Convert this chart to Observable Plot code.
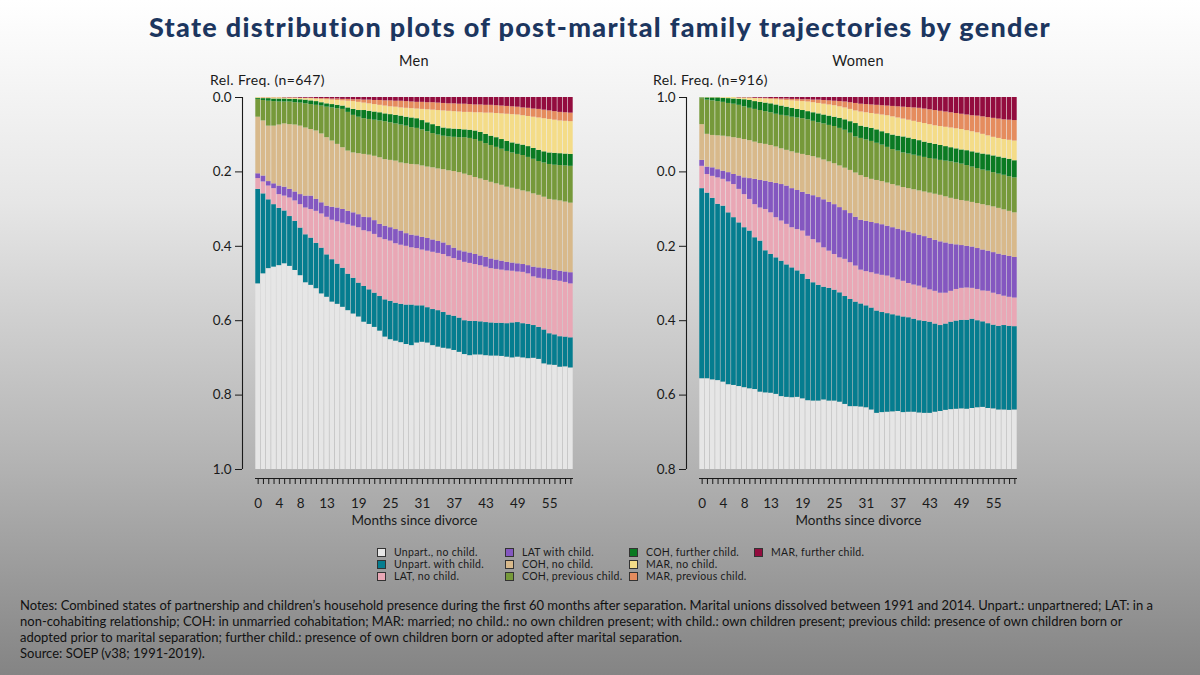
<!DOCTYPE html>
<html>
<head>
<meta charset="utf-8">
<script src="https://cdn.jsdelivr.net/npm/d3@7"></script>
<script src="https://cdn.jsdelivr.net/npm/@observablehq/plot@0.6"></script>
<style>
  html, body { margin: 0; padding: 0; }
  body {
    width: 1200px; height: 675px; position: relative; overflow: hidden;
    background: linear-gradient(to bottom, #ffffff 0%, #e6e6e6 30%, #b4b4b4 68%, #848484 100%);
    font-family: Lato, "Noto Sans", sans-serif; color: #1a1a1a;
  }
  .abs { position: absolute; }
  #title { left: 0; width: 1200px; top: 10px; text-align: center; font-size: 27px; line-height: 34px; font-weight: 900; letter-spacing: 1.3px; color: #1c365f; }
  .ptitle { top: 52px; width: 420px; text-align: center; font-size: 14.5px; line-height: 18px; letter-spacing: 0.3px; }
  .ylab { top: 72px; font-size: 14px; line-height: 16px; letter-spacing: 0.4px; }
  .panel { top: 85px; }
  #legend { left: 0; top: 0; width: 1200px; height: 675px; pointer-events: none; }
  .lg-item { position: absolute; font-size: 10.5px; line-height: 12px; white-space: nowrap; color: #1a1a1a; letter-spacing: 0.3px; }
  .lg-sw { display: inline-block; width: 7px; height: 7px; border: 1px solid #333; vertical-align: -1px; margin-right: 8px; }
  #notes { left: 20px; top: 597px; font-size: 13px; line-height: 16px; white-space: nowrap; color: #111; }
</style>
</head>
<body>
<div id="title" class="abs">State distribution plots of post-marital family trajectories by gender</div>
<div class="abs ptitle" style="left:204px">Men</div>
<div class="abs ptitle" style="left:648px">Women</div>
<div class="abs ylab" style="left:210px">Rel. Freq. (n=647)</div>
<div class="abs ylab" style="left:653px">Rel. Freq. (n=916)</div>
<div id="men" class="abs panel" style="left:170px"></div>
<div id="women" class="abs panel" style="left:614px"></div>
<div id="legend" class="abs"></div>
<div id="notes" class="abs">
Notes: Combined states of partnership and children’s household presence during the first 60 months after separation. Marital unions dissolved between 1991 and 2014. Unpart.: unpartnered; LAT: in a<br>
non-cohabiting relationship; COH: in unmarried cohabitation; MAR: married; no child.: no own children present; with child.: own children present; previous child: presence of own children born or<br>
adopted prior to marital separation; further child.: presence of own children born or adopted after marital separation.<br>
Source: SOEP (v38; 1991-2019).
</div>
<script>
// ---------- categories ----------
const months = [0,1,2,3,4,5,6,7,8,9,10,11,12,13,14,15,16,17,18,19,20,21,22,23,24,25,26,27,28,29,
  30,31,32,33,34,35,36,37,38,39,40,41,42,43,44,45,46,47,48,49,50,51,52,53,54,55,56,57,58,59];
const xTickMonths = [0, 4, 8, 13, 19, 25, 31, 37, 43, 49, 55];
const yTickValues = [0, 0.2, 0.4, 0.6, 0.8, 1];
const menYTickLabels = ["1.0", "0.8", "0.6", "0.4", "0.2", "0.0"];
const womenYTickLabels = ["0.8", "0.6", "0.4", "0.2", "0.0", "1.0"];
const xAxisTitle = "Months since divorce";

const stateNames = ["Unpart., no child.", "Unpart. with child.", "LAT, no child.", "LAT with child.",
  "COH, no child.", "COH, previous child.", "COH, further child.", "MAR, no child.",
  "MAR, previous child.", "MAR, further child."];
const stateColors = ["#e6e6e6", "#057d8f", "#e9a7b5", "#8457c0", "#d8b98b", "#76993a",
  "#0a7a22", "#f4dc88", "#e58c5e", "#930c3e"];

// ---------- Men (% of sequences per month) ----------
const menUnpartNoChild = [49.9,52.6,54.0,54.4,54.8,55.3,54.6,53.5,52.1,50.2,49.5,48.6,47.2,46.3,45.0,44.4,43.6,42.7,41.8,41.0,
  39.6,39.0,38.2,37.2,35.6,34.9,34.5,34.1,33.6,33.3,34.0,34.2,34.0,33.3,32.9,32.6,32.4,32.0,31.5,30.9,
  30.6,30.8,30.8,30.6,30.5,30.5,30.4,30.2,30.0,30.2,30.0,29.8,29.9,29.6,28.4,28.1,28.0,27.5,27.6,27.3];
const menUnpartWithChild = [25.4,21.5,18.5,16.8,15.4,14.2,13.4,13.2,12.8,12.9,12.7,12.2,12.3,11.4,11.4,10.8,10.5,9.8,9.6,9.1,
  9.6,9.3,9.2,9.3,10.0,10.3,10.2,10.3,10.6,10.9,10.0,9.8,9.5,9.7,9.8,9.6,9.1,9.2,9.2,9.1,
  9.2,9.0,8.9,8.9,8.9,8.8,8.9,9.0,9.4,9.3,9.2,9.2,8.8,8.6,9.1,8.4,8.2,8.2,8.0,8.1];
const menLatNoChild = [2.9,3.2,3.7,4.3,3.7,4.0,5.0,5.5,6.3,7.2,7.7,8.6,9.2,10.1,10.6,11.4,12.1,13.3,14.0,14.9,
  15.0,15.6,15.8,15.8,16.2,16.2,16.0,15.9,15.8,15.4,15.4,15.0,15.2,15.4,15.4,15.6,15.7,15.5,15.5,15.7,
  15.6,15.3,15.1,14.9,14.6,14.5,14.3,14.2,13.9,13.6,13.8,13.6,13.1,13.2,13.7,14.5,14.6,14.9,14.7,14.5];
const menLatWithChild = [1.3,1.6,1.2,1.3,2.3,2.4,2.3,2.4,2.7,3.2,3.6,3.2,3.0,3.0,3.5,3.7,3.7,3.6,3.6,3.5,
  3.6,3.8,3.7,3.6,3.6,3.6,3.8,3.8,3.4,3.4,3.4,3.4,3.4,3.3,3.2,3.1,3.0,2.8,2.6,2.8,
  2.8,2.7,2.6,2.6,2.6,2.5,2.4,2.3,2.2,2.2,2.1,2.2,2.6,2.8,2.8,2.8,2.7,2.7,2.8,3.0];
const menCohNoChild = [15.2,14.8,14.9,15.5,16.4,17.0,17.4,18.0,18.4,18.3,17.9,18.4,18.5,18.4,17.8,17.1,16.6,16.2,16.1,16.4,
  16.9,16.8,17.3,17.9,17.9,18.1,18.4,18.3,18.8,19.0,19.1,19.2,19.2,19.4,19.5,19.7,20.1,20.6,21.0,20.9,
  20.8,20.7,20.7,20.7,20.6,20.5,20.4,20.2,20.1,20.0,19.8,19.8,19.7,19.5,19.2,18.8,18.9,18.9,18.8,18.7];
const menCohPrevChild = [4.8,5.5,6.7,6.6,6.2,5.9,6.1,6.0,6.2,6.5,6.7,6.9,7.5,8.2,8.9,9.6,10.3,10.4,10.1,9.8,
  9.6,9.6,9.7,9.9,10.2,10.1,10.0,10.2,10.1,9.9,9.8,9.7,9.5,9.2,9.1,9.0,9.1,9.2,9.4,9.8,
  10.0,10.2,10.1,9.9,9.9,9.8,9.7,9.6,9.5,9.4,9.5,9.3,9.3,9.1,9.2,9.4,9.4,9.5,9.7,9.9];
const menCohFurtherChild = [0.3,0.5,0.7,0.7,0.8,0.8,0.7,0.9,0.9,1.0,1.0,1.0,0.9,0.9,0.9,0.9,0.9,1.2,1.6,1.8,
  2.2,2.2,2.2,2.2,2.1,2.2,2.3,2.4,2.4,2.6,2.6,2.5,2.4,2.4,2.3,2.2,2.2,2.2,2.2,2.1,
  2.2,2.3,2.4,2.5,2.5,2.6,2.6,2.7,2.7,2.8,2.8,2.9,2.9,3.0,3.0,3.1,3.2,3.2,3.2,3.2];
const menMarNoChild = [0.2,0.2,0.2,0.3,0.3,0.3,0.3,0.3,0.4,0.4,0.6,0.7,0.9,1.1,1.2,1.3,1.4,1.8,2.1,2.2,
  2.0,2.0,2.0,2.0,2.1,2.1,2.2,2.2,2.4,2.5,2.6,3.0,3.5,3.9,4.3,4.6,4.7,4.7,4.7,4.7,
  4.8,4.9,5.3,5.7,6.2,6.5,6.9,7.3,7.6,7.8,7.9,8.1,8.4,8.7,8.9,9.0,8.9,8.8,8.8,8.8];
const menMarPrevChild = [0,0.1,0.1,0.1,0.1,0,0.1,0.1,0,0.1,0.1,0.1,0.2,0.3,0.3,0.4,0.4,0.5,0.5,0.7,
  0.8,1.0,1.1,1.3,1.4,1.6,1.6,1.8,1.8,1.8,1.8,1.9,1.9,2.0,2.0,2.0,2.0,2.1,2.1,2.2,
  2.1,2.1,2.1,2.1,2.1,2.1,2.1,2.1,2.1,2.1,2.1,2.2,2.2,2.3,2.3,2.3,2.3,2.3,2.3,2.3];
const menMarFurtherChild = [0,0,0,0,0,0.1,0.1,0.1,0.2,0.2,0.2,0.3,0.3,0.3,0.4,0.4,0.5,0.5,0.6,0.6,
  0.7,0.7,0.8,0.8,0.9,0.9,1.0,1.0,1.1,1.2,1.3,1.3,1.4,1.4,1.5,1.6,1.7,1.7,1.8,1.8,
  1.9,2.0,2.0,2.1,2.1,2.2,2.3,2.4,2.5,2.6,2.8,2.9,3.1,3.2,3.4,3.6,3.8,4.0,4.1,4.2];

// ---------- Women (% of sequences per month) ----------
const womenUnpartNoChild = [24.4,24.4,24.1,23.9,23.5,22.8,22.6,22.3,22.0,21.7,21.5,20.8,20.6,20.5,20.2,19.6,19.4,19.3,19.4,19.0,
  18.5,18.4,18.4,18.7,18.4,18.4,18.1,17.5,16.9,16.9,16.8,16.6,16.0,15.1,15.3,15.4,15.5,15.6,15.3,15.4,
  15.4,15.2,15.1,15.1,15.4,15.6,15.9,16.1,16.2,16.3,16.2,16.4,16.6,16.7,16.4,16.3,16.0,16.0,15.9,16.0];
const womenUnpartWithChild = [51.1,49.9,48.8,47.4,47.3,46.2,45.1,44.0,43.0,42.4,40.8,40.6,38.2,37.3,36.7,36.4,35.6,34.9,34.0,33.5,
  32.6,31.8,31.1,30.3,30.3,29.8,29.4,29.0,28.8,28.1,27.7,27.4,27.4,27.5,26.9,26.5,26.1,25.7,25.7,25.4,
  25.0,24.8,24.7,24.5,23.7,23.1,23.2,23.5,23.7,23.8,23.9,24.0,23.4,23.0,22.8,22.5,22.5,22.7,22.6,22.4];
const womenLatNoChild = [6.0,5.0,5.9,7.1,7.2,8.3,8.9,9.0,8.9,8.5,8.9,8.9,11.1,11.2,10.8,10.8,10.9,10.8,11.1,11.6,
  11.6,11.6,11.4,10.6,10.0,9.6,9.4,10.0,9.9,9.7,9.1,9.2,9.5,9.9,10.0,10.1,9.9,9.7,9.6,9.2,
  9.2,9.3,9.0,8.7,8.8,8.7,8.3,8.3,8.5,8.6,8.7,8.3,8.4,8.3,8.7,8.6,8.5,7.9,7.8,7.7];
const womenLatWithChild = [1.6,2.0,2.3,2.2,2.2,2.5,2.7,3.6,4.5,5.6,6.8,7.4,7.6,8.2,9.2,9.8,10.3,10.5,10.5,10.4,
  11.3,11.8,12.2,12.9,13.1,13.4,13.5,13.1,13.2,13.1,13.4,13.5,13.5,13.6,13.6,13.4,13.5,13.6,13.6,13.8,
  13.8,13.7,13.8,13.8,13.7,13.8,13.5,12.7,12.0,11.5,11.2,11.1,11.0,11.0,10.8,10.9,10.9,11.0,11.0,10.9];
const womenCohNoChild = [9.6,8.8,8.7,9.1,9.4,9.6,9.9,10.1,10.3,10.2,10.0,9.9,9.9,9.9,9.8,9.6,9.6,9.9,10.0,10.2,
  10.4,10.5,10.6,10.7,10.9,11.0,11.2,11.4,11.6,11.9,12.0,11.8,11.6,11.6,11.6,11.6,11.6,11.6,11.6,11.7,
  11.8,11.9,12.0,12.2,12.4,12.5,12.4,12.3,12.2,12.1,12.1,12.0,12.1,12.2,12.2,12.3,12.3,12.2,12.1,12.0];
const womenCohPrevChild = [7.0,9.2,9.3,9.2,9.1,9.0,9.0,8.9,8.8,8.7,8.8,8.9,8.8,8.8,8.8,9.0,9.2,9.3,9.5,9.6,
  9.6,9.5,9.5,9.7,9.8,10.0,10.1,10.2,10.0,9.7,10.0,10.1,10.2,10.0,9.8,9.6,9.4,9.4,9.3,9.3,
  9.3,9.3,9.3,9.3,9.4,9.4,9.6,9.8,9.8,9.8,9.6,9.5,9.4,9.3,9.3,9.2,9.2,9.3,9.3,9.4];
const womenCohFurtherChild = [0.2,0.6,0.8,1.0,1.1,1.3,1.4,1.6,1.9,2.1,2.1,2.2,2.3,2.4,2.5,2.5,2.4,2.4,2.3,2.2,
  2.2,2.3,2.4,2.4,2.5,2.5,2.7,2.8,3.1,3.6,3.3,3.4,3.5,3.6,3.6,3.7,3.9,4.0,4.3,4.3,
  4.2,4.2,4.1,4.1,4.0,4.0,3.9,3.8,3.8,3.8,4.0,4.1,4.2,4.3,4.4,4.5,4.6,4.6,4.7,4.6];
const womenMarNoChild = [0.1,0.1,0.1,0.1,0.2,0.3,0.4,0.4,0.5,0.7,0.9,1.0,1.1,1.2,1.4,1.6,1.8,2.0,2.2,2.4,
  2.6,2.7,2.8,2.9,3.0,3.1,3.1,3.2,3.3,3.4,3.8,3.9,4.0,4.2,4.5,4.8,4.9,4.9,4.8,4.8,
  4.9,4.9,5.0,5.0,5.0,5.1,5.2,5.3,5.4,5.5,5.4,5.4,5.4,5.3,5.1,5.0,5.0,5.0,5.1,5.3];
const womenMarPrevChild = [0,0,0,0,0,0,0,0,0,0,0,0.1,0.2,0.2,0.3,0.3,0.4,0.4,0.5,0.5,
  0.6,0.7,0.9,1.0,1.1,1.2,1.4,1.6,1.8,2.0,2.1,2.2,2.3,2.4,2.5,2.6,2.8,3.0,3.2,3.4,
  3.6,3.8,3.9,4.0,4.1,4.1,4.1,4.1,4.1,4.1,4.2,4.3,4.5,4.7,4.9,5.1,5.2,5.3,5.4,5.5];
const womenMarFurtherChild = [0,0,0,0,0,0,0,0.1,0.1,0.1,0.2,0.2,0.2,0.3,0.3,0.4,0.4,0.5,0.5,0.6,
  0.6,0.7,0.7,0.8,0.9,1.0,1.1,1.2,1.4,1.6,1.8,1.9,2.0,2.1,2.2,2.3,2.4,2.5,2.6,2.7,
  2.8,2.9,3.1,3.3,3.5,3.7,3.9,4.1,4.3,4.5,4.7,4.9,5.0,5.2,5.4,5.6,5.8,6.0,6.1,6.2];

// ---------- build tidy tables ----------
function tidy(seriesList) {
  const rows = [];
  stateNames.forEach((s, k) => seriesList[k].forEach((v, i) => rows.push({month: months[i], state: s, value: v})));
  return rows;
}
const menRows = tidy([menUnpartNoChild, menUnpartWithChild, menLatNoChild, menLatWithChild, menCohNoChild,
  menCohPrevChild, menCohFurtherChild, menMarNoChild, menMarPrevChild, menMarFurtherChild]);
const womenRows = tidy([womenUnpartNoChild, womenUnpartWithChild, womenLatNoChild, womenLatWithChild, womenCohNoChild,
  womenCohPrevChild, womenCohFurtherChild, womenMarNoChild, womenMarPrevChild, womenMarFurtherChild]);

const ink = "#1a1a1a";
function drawPanel(rows, yLabels) {
  return Plot.plot({
    width: 420, height: 445,
    marginLeft: 85, marginRight: 17, marginTop: 12, marginBottom: 61,
    style: {background: "transparent", fontFamily: "Lato, 'Noto Sans', sans-serif", color: ink, overflow: "visible"},
    x: {type: "linear", domain: [0, months.length], label: null},
    y: {domain: [0, 1], label: null},
    color: {domain: stateNames, range: stateColors},
    marks: [
      Plot.rectY(rows, {x: "month", interval: 1, y: "value", fill: "state", order: stateNames,
        offset: "normalize", insetLeft: 0.3, insetRight: 0.3}),
      Plot.ruleX([0], {y1: 0, y2: 1, dx: -13, stroke: ink, strokeWidth: 1.1}),
      Plot.axisY(yTickValues, {anchor: "left", tickSize: 7, tickPadding: 4, dx: -13, fontSize: 13.5,
        tickFormat: d => yLabels[yTickValues.indexOf(d)], label: null}),
      Plot.ruleY([0], {dy: 9, stroke: ink}),
      Plot.axisX(months.map(m => m + 0.5), {anchor: "bottom", tickSize: 6, dy: 9, tickFormat: () => "", label: null}),
      Plot.axisX(xTickMonths.map(m => m + 0.5), {anchor: "bottom", tickSize: 0, tickPadding: 29, fontSize: 13.5,
        tickFormat: d => String(d - 0.5), label: null}),
      Plot.text([xAxisTitle], {frameAnchor: "bottom", dy: 51, fontSize: 13.5, lineAnchor: "middle", fill: ink})
    ]
  });
}
document.getElementById("men").appendChild(drawPanel(menRows, menYTickLabels));
document.getElementById("women").appendChild(drawPanel(womenRows, womenYTickLabels));

// ---------- legend ----------
const legendCols = [377, 505, 629, 754];
const legendTop = 546;
const legend = document.getElementById("legend");
stateNames.forEach((s, i) => {
  const col = Math.floor(i / 3), row = i % 3;
  const item = document.createElement("div");
  item.className = "lg-item";
  item.style.left = legendCols[col] + "px";
  item.style.top = (legendTop + row * 12.2) + "px";
  const sw = document.createElement("span");
  sw.className = "lg-sw";
  sw.style.background = stateColors[i];
  item.appendChild(sw);
  item.appendChild(document.createTextNode(s));
  legend.appendChild(item);
});
</script>
</body>
</html>
